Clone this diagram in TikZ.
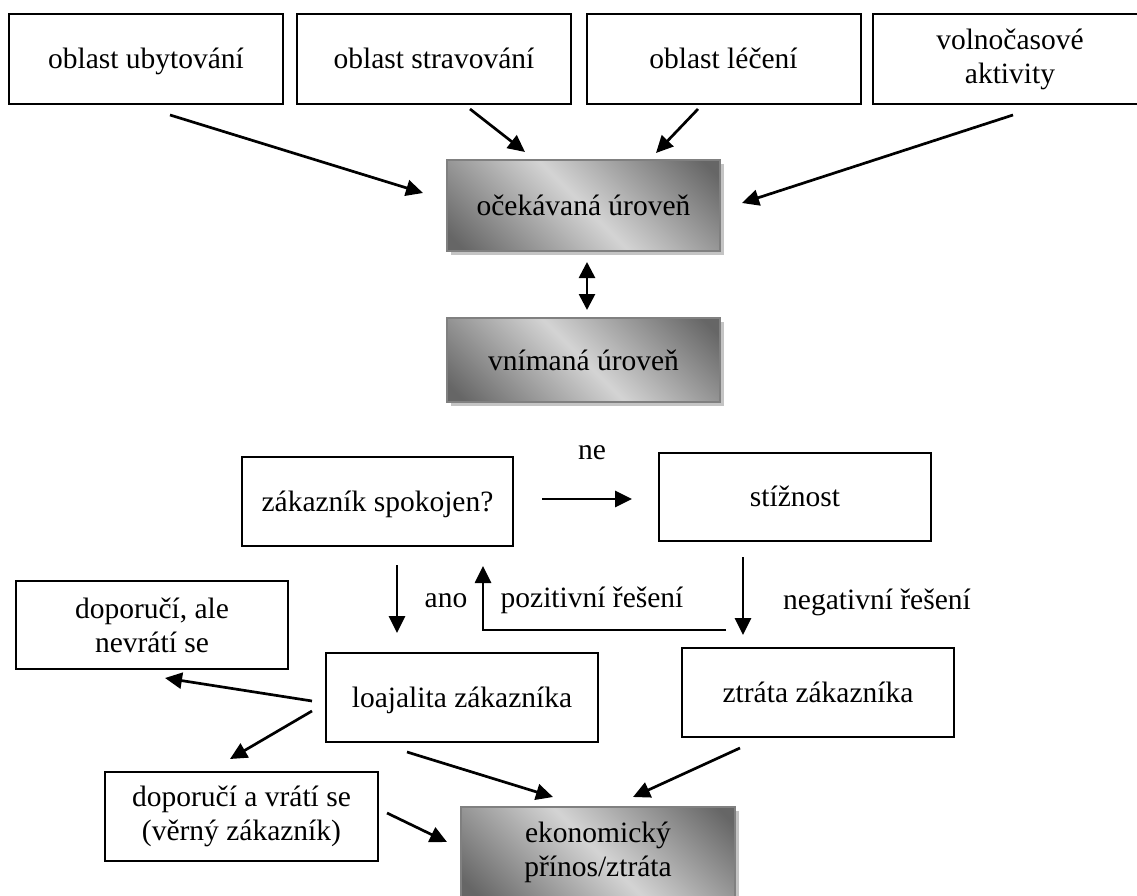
\documentclass[tikz,border=0pt]{standalone}
\usepackage{fontspec}
\setmainfont{Liberation Serif}
\usetikzlibrary{arrows.meta,shadows}

\definecolor{shdark}{gray}{0.40}
\definecolor{shlight}{gray}{0.83}
\definecolor{shadowgrey}{gray}{0.77}
\definecolor{rimgrey}{gray}{0.50}

% metallic grey fill: dark corners, light diagonal band
\pgfdeclarehorizontalshading{steel}{100bp}{%
  color(0bp)=(shdark); color(18bp)=(shdark); color(50bp)=(shlight);
  color(82bp)=(shdark); color(100bp)=(shdark)}

\begin{document}
\begin{tikzpicture}[x=1pt,y=-1pt,
  font=\fontsize{29.5}{34}\selectfont,
  box/.style={draw=black, line width=2pt, minimum width=274pt,
    minimum height=90pt, align=center, inner sep=0pt},
  oneline/.style={text height=20pt, text depth=1pt},
  metal/.style={box, draw=rimgrey, line width=1.6pt, shading=steel,
    shading angle=45,
    drop shadow={shadow xshift=4pt, shadow yshift=-4pt, opacity=1, fill=shadowgrey}},
  lbl/.style={anchor=base, inner sep=0pt},
  arr/.style={line width=2.7pt, -{Triangle[length=17pt,width=16pt]}},
  dblarr/.style={line width=2.7pt, {Triangle[length=16pt,width=16pt]}-{Triangle[length=16pt,width=16pt]}}]

\useasboundingbox (0,0) rectangle (1137,896);

% quality areas
\node[box, oneline] (ubyt)  at (146,59)    {oblast ubytování};
\node[box, oneline] (strav) at (434,59)    {oblast stravování};
\node[box, oneline] (lec)   at (723.5,59)  {oblast léčení};
\node[box]          (volno) at (1010,59)   {volnočasové\\aktivity};

% expected and perceived level
\node[metal, oneline, minimum width=273pt, minimum height=91pt] (ocek) at (583.5,205.5) {očekávaná úroveň};
\node[metal, text height=22pt, text depth=1pt, minimum width=273pt, minimum height=84pt] (vnim) at (583.5,360) {vnímaná úroveň};

% satisfaction branch
\node[box, oneline, minimum width=271pt, minimum height=89pt] (spok) at (377.5,501.5) {zákazník spokojen?};
\node[box, oneline, minimum width=272pt, minimum height=88pt] (stiz) at (795,497) {stížnost};
\node[box, minimum width=272pt, minimum height=88pt] (ale)  at (152,625)   {doporučí, ale\\nevrátí se};
\node[box, oneline, minimum width=272pt, minimum height=89pt] (loaj) at (462,697.5) {loajalita zákazníka};
\node[box, oneline, minimum width=272pt, minimum height=89pt] (ztr)  at (818,692.5) {ztráta zákazníka};
\node[box, minimum width=273pt, minimum height=89pt] (vrati) at (241.5,816.5) {doporučí a vrátí se\\(věrný zákazník)};
\node[metal, minimum width=274pt, minimum height=90pt] (ekon) at (598,852) {ekonomický\\přínos/ztráta};

% labels
\node[lbl] (lne)  at (592,459) {ne};
\node[lbl] (lano) at (446,607) {ano};
\node[lbl] (lpoz) at (592,607) {pozitivní řešení};
\node[lbl] (lneg) at (877,609) {negativní řešení};

% connector end points
\coordinate (ubytS) at (170,115);   \coordinate (ocekA) at (423,193);
\coordinate (stravS) at (470,109);  \coordinate (ocekB) at (525,152);
\coordinate (lecS) at (698,109);    \coordinate (ocekC) at (656,153);
\coordinate (volnoS) at (1013,115); \coordinate (ocekD) at (742,203);
\coordinate (ocekS) at (587,262);   \coordinate (vnimN) at (587,310);
\coordinate (spokE) at (542,499);   \coordinate (stizW) at (632,499);
\coordinate (spokS) at (397,565);   \coordinate (loajN) at (397,633);
\coordinate (posR) at (726,630);    \coordinate (posL) at (483,630);
\coordinate (spokB) at (483,566);
\coordinate (stizS) at (743,557);   \coordinate (ztrN) at (743,635);
\coordinate (loajW1) at (312,701);  \coordinate (aleS) at (165,678);
\coordinate (loajW2) at (312,711);  \coordinate (vratiN) at (230,759);
\coordinate (loajS) at (407,752);   \coordinate (ekonA) at (553,797);
\coordinate (ztrS) at (740,748);    \coordinate (ekonB) at (633,797);
\coordinate (vratiE) at (387,813);  \coordinate (ekonC) at (447,842);

% connectors
\draw[arr] (ubytS) -- (ocekA);
\draw[arr] (stravS) -- (ocekB);
\draw[arr] (lecS) -- (ocekC);
\draw[arr] (volnoS) -- (ocekD);
\draw[dblarr] (ocekS) -- (vnimN);
\draw[arr] (spokE) -- (stizW);
\draw[arr] (spokS) -- (loajN);
\draw[arr] (posR) -- (posL) -- (spokB);
\draw[arr] (stizS) -- (ztrN);
\draw[arr] (loajW1) -- (aleS);
\draw[arr] (loajW2) -- (vratiN);
\draw[arr] (loajS) -- (ekonA);
\draw[arr] (ztrS) -- (ekonB);
\draw[arr] (vratiE) -- (ekonC);
\end{tikzpicture}
\end{document}
